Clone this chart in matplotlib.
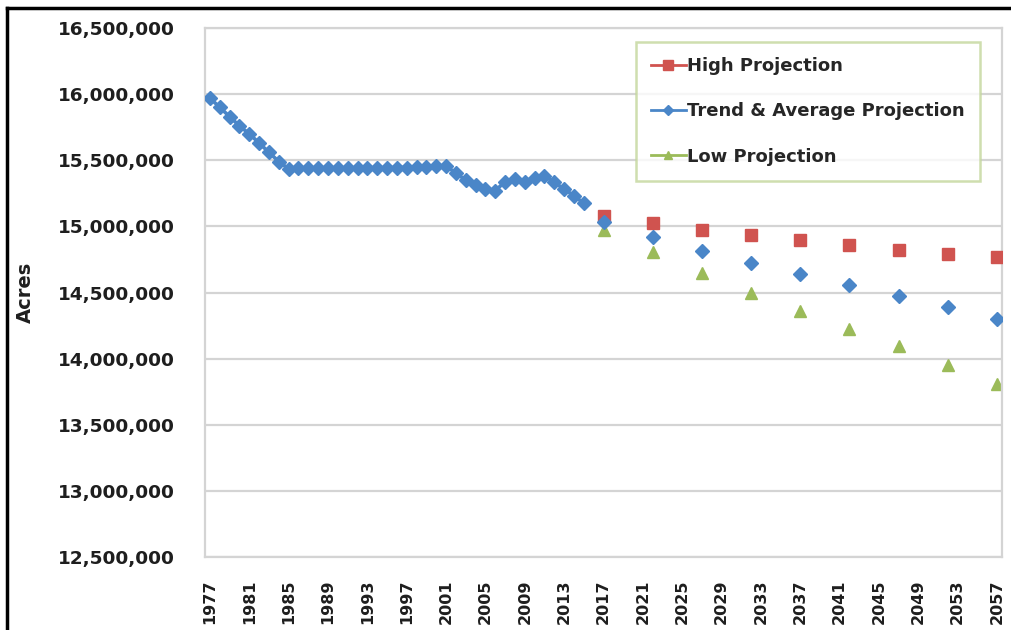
import matplotlib
matplotlib.use("Agg")
import matplotlib.pyplot as plt
from matplotlib.lines import Line2D
from matplotlib.ticker import FuncFormatter

# ---- data ----
hist_years = list(range(1977, 2016))
hist_values = [15970000, 15900000, 15830000, 15760000, 15700000, 15630000, 15560000,
               15490000, 15435000, 15438000, 15438000, 15438000, 15438000, 15438000,
               15440000, 15440000, 15440000, 15442000, 15442000, 15445000, 15445000,
               15448000, 15452000, 15456000, 15456000, 15403000, 15350000, 15313000,
               15282000, 15270000, 15338000, 15358000, 15338000, 15363000, 15383000,
               15333000, 15282000, 15232000, 15174000]

proj_years = [2017, 2022, 2027, 2032, 2037, 2042, 2047, 2052, 2057]
high_proj = [15078000, 15025000, 14970000, 14937000, 14900000, 14857000, 14819000, 14794000, 14769000]
trend_proj = [15033000, 14920000, 14811000, 14726000, 14640000, 14555000, 14472000, 14387000, 14300000]
low_proj = [14975000, 14810000, 14645000, 14500000, 14358000, 14225000, 14095000, 13952000, 13810000]

xtick_years = list(range(1977, 2058, 4))
ytick_values = list(range(12500000, 16500001, 500000))

series_labels = ["High Projection", "Trend & Average Projection", "Low Projection"]

# ---- style ----
BLUE = "#4A86C8"
RED = "#D0534F"
GREEN = "#9BBB59"
GRID = "#D4D4D4"
TEXT = "#1E1E1E"

fig = plt.figure(figsize=(10.11, 6.30), dpi=100)
ax = fig.add_axes([205 / 1011, 1 - 557 / 630, (1002 - 205) / 1011, (557 - 28) / 630])

ax.plot(hist_years, hist_values, color=BLUE, lw=2.6, marker="D", ms=7.5,
        mfc=BLUE, mec=BLUE, zorder=3)
ax.plot(proj_years, high_proj, ls="none", marker="s", ms=9, color=RED, zorder=3)
ax.plot(proj_years, trend_proj, ls="none", marker="D", ms=7.5, color=BLUE, zorder=4)
ax.plot(proj_years, low_proj, ls="none", marker="^", ms=9, color=GREEN, zorder=2)

ax.set_xlim(1976.5, 2057.5)
ax.set_ylim(12500000, 16500000)
ax.set_xticks(xtick_years)
ax.set_xticklabels([str(y) for y in xtick_years], rotation=90)
ax.set_yticks(ytick_values)
ax.yaxis.set_major_formatter(FuncFormatter(lambda v, p: f"{int(v):,}"))

ax.grid(axis="y", color=GRID, lw=1.6)
ax.set_axisbelow(True)
for s in ax.spines.values():
    s.set_color(GRID)
    s.set_linewidth(1.6)
ax.tick_params(axis="both", length=0)
ax.tick_params(axis="y", pad=22, labelsize=13.3, labelcolor=TEXT)
ax.tick_params(axis="x", pad=16, labelsize=11.5, labelcolor=TEXT)
for lbl in ax.get_yticklabels() + ax.get_xticklabels():
    lbl.set_fontweight("bold")

ax.set_ylabel("Acres", fontsize=14, fontweight="bold", color=TEXT, labelpad=16)

handles = [
    Line2D([], [], color=RED, lw=2, marker="s", ms=7),
    Line2D([], [], color=BLUE, lw=2, marker="D", ms=5),
    Line2D([], [], color=GREEN, lw=2, marker="^", ms=6),
]
leg = ax.legend(handles, series_labels, loc="upper left",
                bbox_to_anchor=((636 - 205) / 797, 1 - (42 - 28) / 529),
                frameon=True, fancybox=False, fontsize=13, handlelength=1.9,
                handletextpad=0.05, labelspacing=1.5, borderpad=0.85,
                borderaxespad=0)
leg.get_frame().set_edgecolor("#C3D69B")
leg.get_frame().set_linewidth(1.8)
for t in leg.get_texts():
    t.set_color("#262626")
    t.set_fontweight("semibold")

# cropped black page border (top and left)
fig.add_artist(Line2D([7 / 1011, 1], [1 - 8 / 630, 1 - 8 / 630], color="black", lw=2.5,
                      transform=fig.transFigure))
fig.add_artist(Line2D([7 / 1011, 7 / 1011], [0, 1 - 8 / 630], color="black", lw=2.5,
                      transform=fig.transFigure))

fig.savefig("out.png", dpi=100)
